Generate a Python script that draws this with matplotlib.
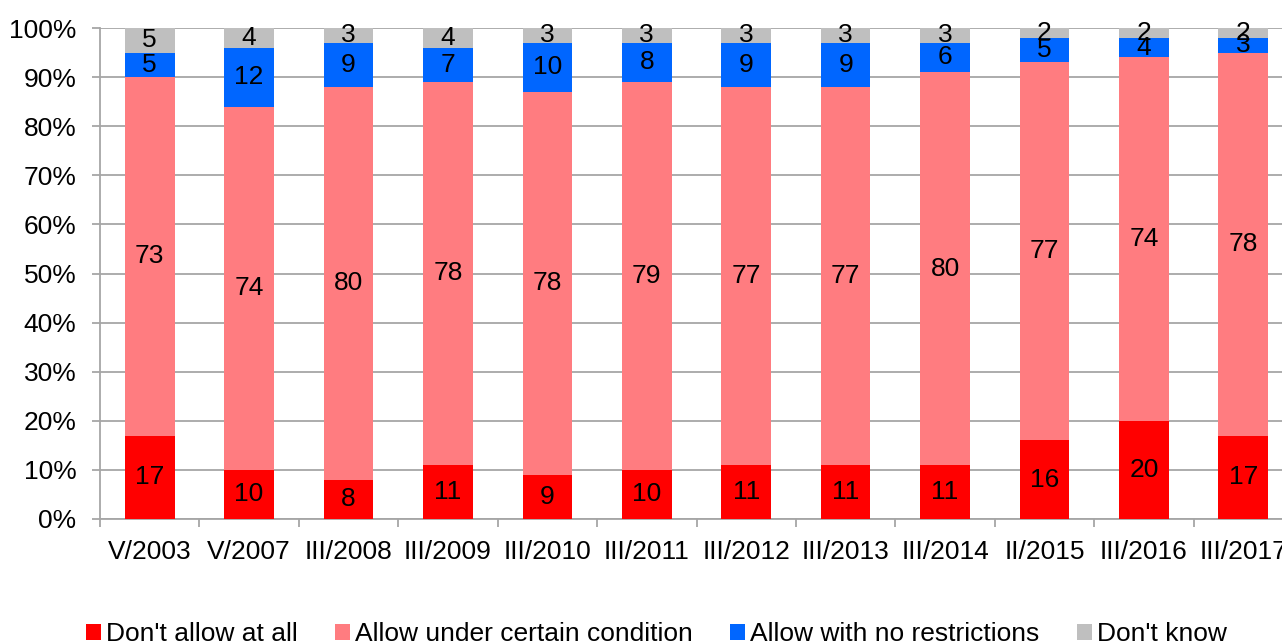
import numpy as np
import matplotlib.pyplot as plt
from matplotlib.patches import Patch
from matplotlib.ticker import FixedLocator, PercentFormatter

plt.rcParams['font.family'] = ['Liberation Sans', 'DejaVu Sans']

# Survey waves and answer shares (percent)
waves = ['V/2003', 'V/2007', 'III/2008', 'III/2009', 'III/2010', 'III/2011',
         'III/2012', 'III/2013', 'III/2014', 'II/2015', 'III/2016', 'III/2017']
dont_allow = [17, 10, 8, 11, 9, 10, 11, 11, 11, 16, 20, 17]
allow_cond = [73, 74, 80, 78, 78, 79, 77, 77, 80, 77, 74, 78]
allow_free = [5, 12, 9, 7, 10, 8, 9, 9, 6, 5, 4, 3]
dont_know = [5, 4, 3, 4, 3, 3, 3, 3, 3, 2, 2, 2]

series = [
    ("Don't allow at all", dont_allow, '#FF0000'),
    ('Allow under certain condition', allow_cond, '#FF7C80'),
    ('Allow with no restrictions', allow_free, '#0066FF'),
    ("Don't know", dont_know, '#BFBFBF'),
]

FS = 19

fig = plt.figure(figsize=(12.82, 6.43), dpi=100)
ax = fig.add_axes([100 / 1282, 124 / 643, 1193 / 1282, 491 / 643])

x = np.arange(len(waves))
bottom = np.zeros(len(waves))
for name, vals, color in series:
    vals = np.array(vals, dtype=float)
    bars = ax.bar(x, vals, width=0.5, bottom=bottom, color=color,
                  label=name, zorder=3)
    for rect, v in zip(bars, vals):
        ax.text(rect.get_x() + rect.get_width() / 2,
                rect.get_y() + rect.get_height() / 2,
                f'{int(v)}', ha='center', va='center',
                fontsize=FS, color='black', zorder=4)
    bottom += vals

ax.set_xlim(-0.5, len(waves) - 0.5)
ax.set_ylim(0, 100)
ax.set_yticks(np.arange(0, 101, 10))
ax.yaxis.set_major_formatter(PercentFormatter(decimals=0))
ax.set_xticks(x)
ax.set_xticklabels(waves)
ax.xaxis.set_minor_locator(FixedLocator(np.arange(-0.5, len(waves), 1)))

grid_c = '#A6A6A6'
ax.grid(axis='y', color=grid_c, linewidth=1.3, zorder=0)
for side in ['top', 'right']:
    ax.spines[side].set_visible(False)
for side in ['left', 'bottom']:
    ax.spines[side].set_color(grid_c)
    ax.spines[side].set_linewidth(1.3)

ax.tick_params(axis='y', length=6, width=1.3, color=grid_c, pad=11,
               labelsize=FS)
ax.tick_params(axis='x', which='major', length=0, pad=15, labelsize=FS)
ax.tick_params(axis='x', which='minor', length=6, width=1.3, color=grid_c)

handles = [Patch(facecolor=c, label=n) for n, _, c in series]
fig.legend(handles=handles, loc='center', bbox_to_anchor=(0.512, 0.014),
           ncol=4, frameon=False, fontsize=FS, handlelength=0.57,
           handleheight=0.57, handletextpad=0.2, columnspacing=1.4)

fig.savefig('out.png', dpi=100)
